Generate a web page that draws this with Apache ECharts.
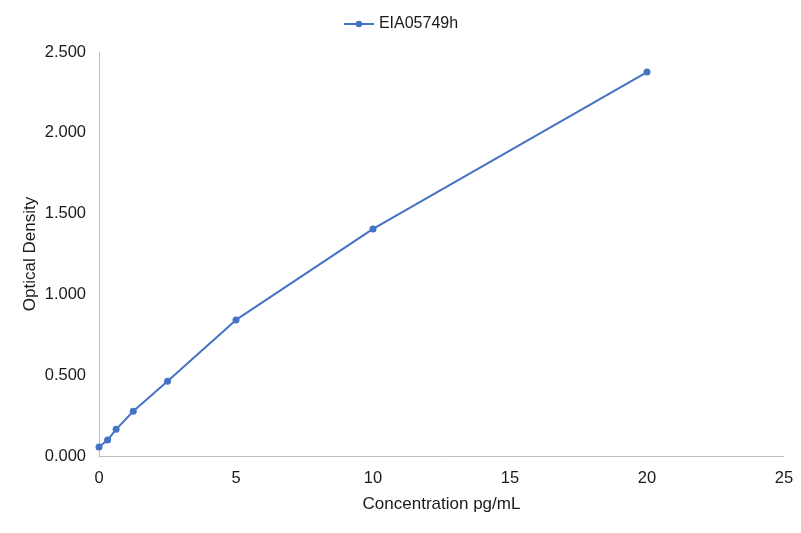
<!DOCTYPE html>
<html>
<head>
<meta charset="utf-8">
<script src="https://cdn.jsdelivr.net/npm/echarts@6/dist/echarts.min.js"></script>
<style>
  html, body { margin: 0; padding: 0; background: #fff; }
  #chart { width: 801px; height: 533px; }
</style>
</head>
<body>
<div id="chart"></div>
<script>
var seriesName = 'EIA05749h';
var concentration = [0, 0.3125, 0.625, 1.25, 2.5, 5, 10, 20];
var density = [0.056, 0.099, 0.165, 0.277, 0.462, 0.842, 1.405, 2.376];

var points = concentration.map(function (c, i) { return [c, density[i]]; });

var chart = echarts.init(document.getElementById('chart'));
var font = 'Arial, "Liberation Sans", sans-serif';
var txt = '#1a1a1a';
chart.setOption({
  animation: false,
  textStyle: { fontFamily: font },
  legend: {
    top: 11,
    left: 'center',
    itemWidth: 30,
    itemHeight: 8,
    itemGap: 6,
    textStyle: { fontSize: 16, color: txt, fontFamily: font },
    data: [seriesName]
  },
  grid: { left: 99, right: 17, top: 52, bottom: 77 },
  xAxis: {
    type: 'value',
    min: 0, max: 25, interval: 5,
    name: 'Concentration pg/mL',
    nameLocation: 'middle',
    nameGap: 40,
    nameTextStyle: { fontSize: 17, color: txt },
    axisLine: { lineStyle: { color: '#bfbfbf' } },
    axisTick: { show: false },
    splitLine: { show: false },
    axisLabel: { fontSize: 16.5, color: txt, margin: 14 }
  },
  yAxis: {
    type: 'value',
    min: 0, max: 2.5, interval: 0.5,
    name: 'Optical Density',
    nameLocation: 'middle',
    nameGap: 60,
    nameMoveOverlap: false,
    nameTextStyle: { fontSize: 17, color: txt },
    axisLine: { show: true, lineStyle: { color: '#bfbfbf' } },
    axisTick: { show: false },
    splitLine: { show: false },
    axisLabel: {
      fontSize: 16.5, color: txt, margin: 13,
      formatter: function (v) { return v.toFixed(3); }
    }
  },
  series: [{
    name: seriesName,
    type: 'line',
    data: points,
    symbol: 'circle',
    symbolSize: 7,
    lineStyle: { color: '#4472c4', width: 2 },
    itemStyle: { color: '#4472c4' }
  }]
});
</script>
</body>
</html>
